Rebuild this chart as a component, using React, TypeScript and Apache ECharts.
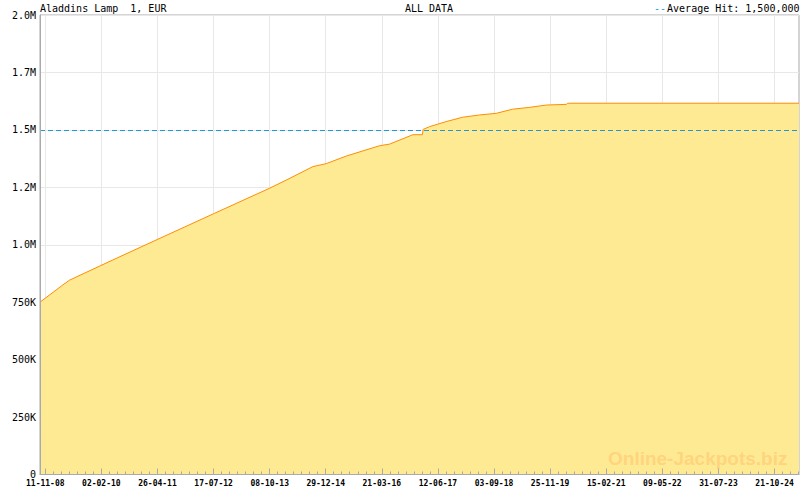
import React, { useEffect, useRef } from "react";
import * as echarts from "echarts";

const chartTitle = "Aladdins Lamp  1, EUR";
const chartSubtitle = "ALL DATA";
const legendLabel = "Average Hit: 1,500,000";
const averageHit = 1500000;
const watermarkText = "Online-Jackpots.biz";

const axisStart = "2008-09-30";
const axisEnd = "2025-05-04";

const dates = [
  "2008-09-30", "2009-03-31", "2009-05-24", "2010-01-19", "2010-05-05",
  "2011-04-29", "2012-07-25", "2013-10-07", "2014-03-02", "2014-09-17",
  "2015-01-02", "2015-06-11", "2016-03-03", "2016-05-22", "2016-10-28",
  "2016-11-24", "2017-02-08", "2017-02-14", "2017-04-06", "2017-08-17",
  "2017-12-26", "2018-05-11", "2018-09-21", "2019-01-29", "2019-06-14",
  "2019-10-25", "2020-04-04", "2020-04-12", "2025-05-04",
];

const values = [
  750000, 825000, 846000, 907000, 934000,
  1024000, 1137000, 1246000, 1285000, 1340000,
  1353000, 1386000, 1431000, 1438000, 1473000,
  1479000, 1479000, 1502000, 1514000, 1536000,
  1555000, 1565000, 1572000, 1590000, 1598000,
  1608000, 1611000, 1616000, 1616000,
];

const xTickLabels = [
  "11-11-08", "02-02-10", "26-04-11", "17-07-12", "08-10-13", "29-12-14", "21-03-16",
  "12-06-17", "03-09-18", "25-11-19", "15-02-21", "09-05-22", "31-07-23", "21-10-24",
];

const yTickValues = [0, 250000, 500000, 750000, 1000000, 1250000, 1500000, 1750000, 2000000];
const yTickLabels = ["0", "250K", "500K", "750K", "1.0M", "1.2M", "1.5M", "1.7M", "2.0M"];

const DAY = 86400000;
const isoToDay = (s: string) => {
  const [y, m, d] = s.split("-").map(Number);
  return Date.UTC(y, m - 1, d) / DAY;
};
const labelToDay = (s: string) => {
  const [d, m, y] = s.split("-").map(Number);
  return Date.UTC(2000 + y, m - 1, d) / DAY;
};

export default function App() {
  const ref = useRef<HTMLDivElement>(null);

  useEffect(() => {
    if (!ref.current) return;
    const chart = echarts.init(ref.current, undefined, { renderer: "svg" });

    const xMin = isoToDay(axisStart);
    const xMax = isoToDay(axisEnd);
    const majorDays = xTickLabels.map(labelToDay);
    const minorDays: number[] = [];
    for (let i = 0; i < majorDays.length; i++) {
      const a = majorDays[i];
      const b = i + 1 < majorDays.length ? majorDays[i + 1] : a + 448;
      const step = (b - a) / 7;
      for (let k = 1; k < 7; k++) {
        const v = a + step * k;
        if (v < xMax) minorDays.push(v);
      }
    }
    const mono = "DejaVu Sans Mono";
    const axisGrey = "#aaaaaa";

    const baseX = {
      type: "value",
      min: xMin,
      max: xMax,
      gridIndex: 0,
      position: "bottom",
      offset: 0,
    } as any;

    chart.setOption({
      animation: false,
      backgroundColor: "#ffffff",
      grid: {
        left: 40,
        right: 1,
        top: 15,
        bottom: 15.5,
        show: true,
        borderColor: axisGrey,
        borderWidth: 1,
        backgroundColor: "transparent",
      },
      xAxis: [
        {
          ...baseX,
          axisLine: { show: false, onZero: false },
          axisTick: { show: false, customValues: majorDays },
          axisLabel: { show: false },
          splitLine: { show: true, lineStyle: { color: "#e8e8e8", width: 1 } },
        },
        {
          ...baseX,
          z: 10,
          axisLine: { show: true, onZero: false, lineStyle: { color: axisGrey, width: 1 } },
          axisTick: { show: true, inside: true, length: 6, customValues: majorDays, lineStyle: { color: axisGrey } },
          axisLabel: {
            show: true,
            customValues: majorDays,
            margin: 5,
            fontFamily: mono,
            fontSize: 8,
            fontWeight: "bold",
            color: "#000000",
            formatter: (v: number) => {
              const i = majorDays.findIndex((d) => Math.abs(d - v) < 0.5);
              return i >= 0 ? xTickLabels[i] : "";
            },
          },
          splitLine: { show: false },
        },
        {
          ...baseX,
          z: 10,
          axisLine: { show: false, onZero: false },
          axisTick: { show: true, inside: true, length: 3, customValues: minorDays, lineStyle: { color: axisGrey } },
          axisLabel: { show: false },
          splitLine: { show: false },
        },
      ],
      yAxis: [
        {
          type: "value",
          position: "left",
          min: 0,
          max: 2000000,
          interval: 250000,
          axisLine: { show: false },
          axisTick: { show: false },
          axisLabel: {
            margin: 4,
            fontFamily: mono,
            fontSize: 10,
            lineHeight: 10,
            padding: [0, 0, 3, 0],
            color: "#000000",
            formatter: (v: number) => {
              const i = yTickValues.indexOf(v);
              return i >= 0 ? yTickLabels[i] : "";
            },
          },
          splitLine: { show: true, lineStyle: { color: "#e8e8e8", width: 1 } },
        },
        {
          type: "value",
          position: "left",
          offset: 0,
          min: 0,
          max: 2000000,
          interval: 250000,
          z: 10,
          axisLine: { show: true, onZero: false, lineStyle: { color: axisGrey, width: 1 } },
          axisTick: { show: false },
          axisLabel: { show: false },
          splitLine: { show: false },
        },
      ],
      series: [
        {
          type: "line",
          xAxisIndex: 0,
          yAxisIndex: 0,
          data: dates.map((d, i) => [isoToDay(d), values[i]]),
          showSymbol: false,
          symbol: "none",
          lineStyle: { color: "#ff8c00", width: 1 },
          areaStyle: { color: "#ffea94", opacity: 1 },
          markLine: {
            silent: true,
            symbol: ["none", "none"],
            label: { show: false },
            lineStyle: { color: "#1e9bd7", width: 1, type: [5, 3] },
            data: [{ yAxis: averageHit }],
          },
        },
      ],
      graphic: [
        {
          type: "text",
          x: 40,
          y: 8,
          style: { text: chartTitle, fontFamily: mono, fontSize: 10, fill: "#000", verticalAlign: "middle", align: "left" },
        },
        {
          type: "text",
          x: 429,
          y: 8,
          style: { text: chartSubtitle, fontFamily: mono, fontSize: 10, fill: "#000", verticalAlign: "middle", align: "center" },
        },
        {
          type: "text",
          x: 799.5,
          y: 8,
          style: { text: legendLabel, fontFamily: mono, fontSize: 10, fill: "#000", verticalAlign: "middle", align: "right" },
        },
        {
          type: "text",
          x: 666,
          y: 8,
          style: { text: "--", fontFamily: mono, fontSize: 10, fill: "#1e9bd7", verticalAlign: "middle", align: "right" },
        },
        {
          type: "text",
          x: 608,
          y: 458,
          z: 5,
          style: {
            text: watermarkText,
            fontFamily: "Liberation Sans",
            fontWeight: "bold",
            fontSize: 19,
            fill: "#ffd47e",
            verticalAlign: "middle",
            align: "left",
          },
        },
      ],
    });

    return () => chart.dispose();
  }, []);

  return <div ref={ref} style={{ width: 800, height: 490, position: "absolute", left: 0, top: 0 }} />;
}
